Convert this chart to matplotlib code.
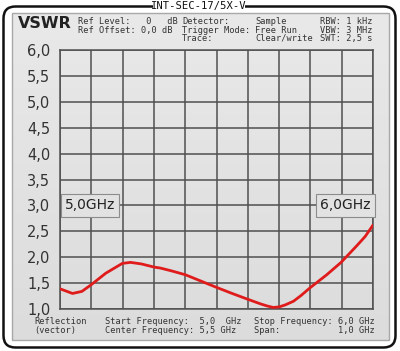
import numpy as np
import matplotlib
matplotlib.use("Agg")
import matplotlib.pyplot as plt
from matplotlib.patches import FancyBboxPatch, Rectangle

# VSWR trace
freq_ghz = [5.000, 5.040, 5.070, 5.100, 5.146, 5.199, 5.225, 5.260, 5.300, 5.321,
            5.360, 5.401, 5.450, 5.499, 5.550, 5.599, 5.640, 5.661, 5.681, 5.700,
            5.720, 5.746, 5.770, 5.799, 5.852, 5.898, 5.948, 5.975, 6.000]
vswr = [1.39, 1.30, 1.34, 1.47, 1.69, 1.88, 1.90, 1.87, 1.81, 1.79,
        1.73, 1.66, 1.54, 1.42, 1.30, 1.19, 1.10, 1.06, 1.03, 1.04,
        1.08, 1.15, 1.26, 1.41, 1.66, 1.90, 2.22, 2.40, 2.62]

y_ticks = [1.0, 1.5, 2.0, 2.5, 3.0, 3.5, 4.0, 4.5, 5.0, 5.5, 6.0]
y_labels = ["1,0", "1,5", "2,0", "2,5", "3,0", "3,5", "4,0", "4,5", "5,0", "5,5", "6,0"]
x_ticks = [5.0 + 0.1 * i for i in range(11)]

header = [
    (78, "Ref Level:   0   dB\nRef Offset: 0,0 dB"),
    (182, "Detector:\nTrigger Mode:\nTrace:"),
    (255, "Sample\nFree Run\nClear/write"),
    (320, "RBW: 1 kHz\nVBW: 3 MHz\nSWT: 2,5 s"),
]
footer = [
    (34, "Reflection\n(vector)"),
    (105, "Start Frequency:  5,0  GHz\nCenter Frequency: 5,5 GHz"),
    (254, "Stop Frequency: 6,0 GHz\nSpan:           1,0 GHz"),
]

W, H = 400, 351
fig = plt.figure(figsize=(W / 100, H / 100), dpi=100)
fig.patch.set_facecolor("white")

# background layer in pixel coordinates
bg = fig.add_axes([0, 0, 1, 1])
bg.set_xlim(0, W)
bg.set_ylim(H, 0)
bg.axis("off")

outer = FancyBboxPatch((3.5, 6.5), 392, 341, boxstyle="round,pad=0,rounding_size=12",
                       fc="white", ec="#111111", lw=1.8)
bg.add_patch(outer)

grad = np.linspace(0, 1, 200)[:, None]
bg.imshow(grad, extent=(12, 389, 340, 13), cmap=matplotlib.colors.LinearSegmentedColormap.from_list(
    "g", ["#e9e9e9", "#dcdcdc"]), aspect="auto", zorder=1)
bg.add_patch(Rectangle((12, 13), 377, 327, fc="none", ec="#a8a8a8", lw=1.0, zorder=2))

bg.add_patch(Rectangle((153, 0), 92, 11, fc="white", ec="none", zorder=3))
bg.text(199, 5.5, "INT-SEC-17/5X-V", ha="center", va="center", fontsize=7.6,
        family="DejaVu Sans Mono", color="#111111", zorder=4)

bg.text(18, 23, "VSWR", ha="left", va="center", fontsize=11.5, fontweight="bold",
        family="DejaVu Sans", color="#222222", zorder=4)
for x, s in header:
    bg.text(x, 17.5, s, ha="left", va="top", fontsize=6.2, family="DejaVu Sans Mono",
            color="#333333", linespacing=0.88, zorder=4)
for x, s in footer:
    bg.text(x, 317.5, s, ha="left", va="top", fontsize=6.2, family="DejaVu Sans Mono",
            color="#333333", linespacing=0.88, zorder=4)

# plot area
ax = fig.add_axes([60 / W, 1 - 309 / H, 313 / W, 259 / H])
ax.set_facecolor("none")
ax.plot(freq_ghz, vswr, color="#e01b1b", lw=2.0, zorder=3, solid_capstyle="round")
ax.set_xlim(5.0, 6.0)
ax.set_ylim(1.0, 6.0)
ax.set_xticks(x_ticks)
ax.set_yticks(y_ticks)
ax.set_yticklabels(y_labels)
ax.set_xticklabels([])
ax.tick_params(axis="both", length=0, pad=7)
ax.tick_params(axis="y", labelsize=10.5, labelcolor="#333333")
ax.grid(True, color="#505050", lw=1.1)
for sp in ax.spines.values():
    sp.set_color("#505050")
    sp.set_linewidth(1.1)

box = dict(boxstyle="square,pad=0.3", fc="#e2e2e2", ec="#8c8c8c", lw=0.8)
ax.text(5.015, 3.0, "5,0GHz", ha="left", va="center", fontsize=10, color="#222222",
        bbox=box, zorder=4)
ax.text(5.992, 3.0, "6,0GHz", ha="right", va="center", fontsize=10, color="#222222",
        bbox=box, zorder=4)

fig.savefig("out.png", dpi=100)
